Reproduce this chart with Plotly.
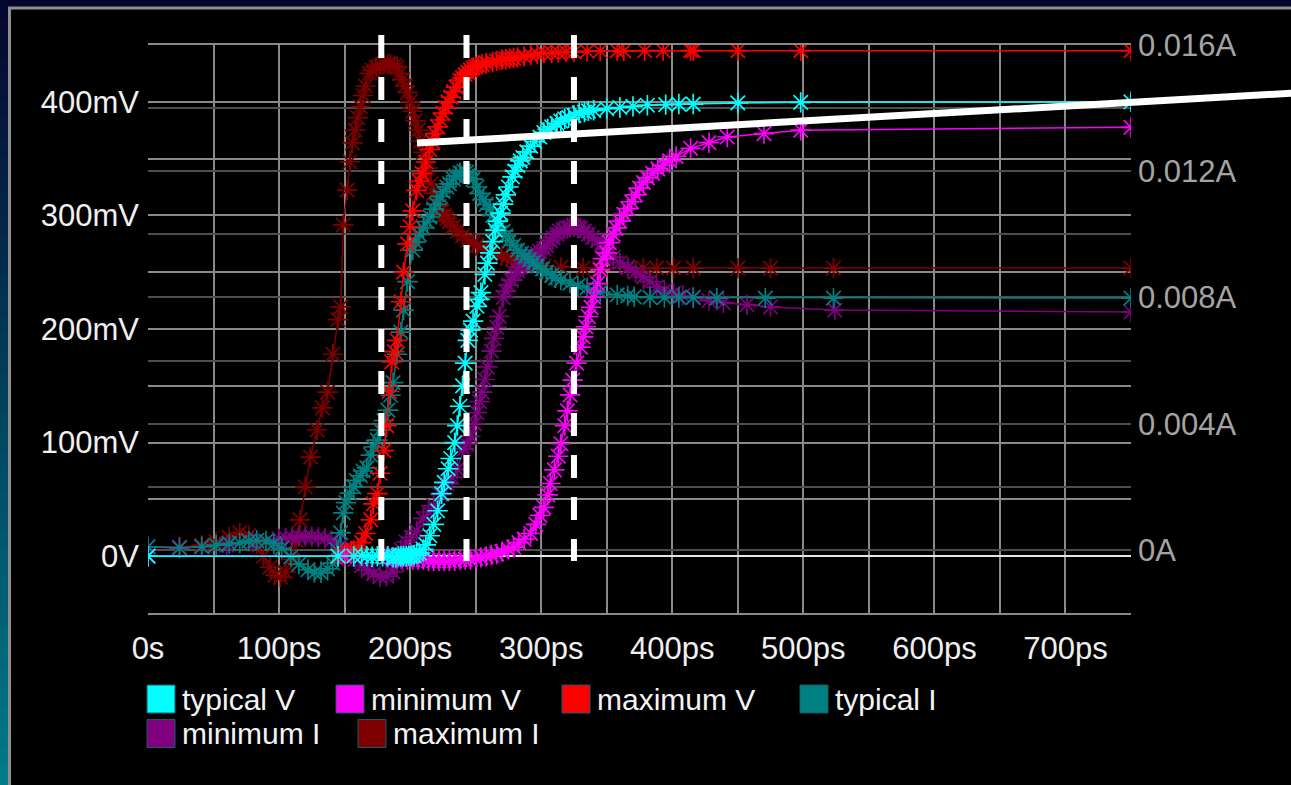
import plotly.graph_objects as go

# ---------------- data ----------------
series_names = ["typical V", "minimum V", "maximum V", "typical I", "minimum I", "maximum I"]
series_colors = ["#00ffff", "#ff00ff", "#ff0000", "#008080", "#800080", "#800000"]

# time axis (ps)
x_tick_vals = [0, 50, 100, 150, 200, 250, 300, 350, 400, 450, 500, 550, 600, 650, 700, 750]
x_tick_text = ["0s", "", "100ps", "", "200ps", "", "300ps", "", "400ps", "", "500ps", "", "600ps", "", "700ps", ""]
# voltage axis (mV)
v_tick_vals = [-50, 0, 50, 100, 150, 200, 250, 300, 350, 400, 450]
v_tick_text = ["", "0V", "", "100mV", "", "200mV", "", "300mV", "", "400mV", ""]
# current axis (mA)
i_tick_vals = [-2, 0, 2, 4, 6, 8, 10, 12, 14, 16]
i_tick_text = ["", "0A", "", "0.004A", "", "0.008A", "", "0.012A", "", "0.016A"]

# typical V (ps, mV)
typ_v_t = [0, 145, 157, 163, 167, 171, 175, 179, 183, 187, 189, 191, 193, 195, 197, 199, 201, 203, 205, 207,
           210, 212, 215, 218, 221, 224, 226, 229, 231, 234, 236, 238, 240, 242, 244, 246, 248, 251, 253, 254,
           257, 259, 261, 263, 265, 267, 269, 271, 273, 275, 278, 280, 282, 284, 286, 289, 292, 295, 299, 302,
           305, 308, 312, 315, 318, 321, 325, 329, 333, 336, 340, 350, 360, 370, 381, 395, 405, 416, 450, 498,
           750]
typ_v = [0, 0, 0, 0.5, 0, -0.5, 0, 0, 0, -1, -1, 0, 0, 0, 0, 0.5, 0.5, 1, 2, 3,
         6, 10, 18, 28, 40, 55, 65, 77, 86, 100, 115, 132, 150, 170, 190, 199, 207, 220, 226, 232,
         248, 258, 267, 277, 287, 295, 302, 310, 318, 325, 334, 339, 344, 348, 351, 356, 361, 365, 369, 373,
         376, 378, 381, 383, 385, 386, 388, 390, 391, 392, 392.5, 394, 395, 396, 397, 397.5, 398, 398, 399, 399.5,
         400]

# minimum V (ps, mV)
min_v_t = [0, 150, 182, 186, 190, 194, 198, 202, 206, 210, 214, 218, 222, 226, 230, 234, 238, 242, 246, 250,
           254, 258, 262, 266, 270, 275, 279, 283, 287, 292, 296, 299, 302, 305, 307, 310, 313, 315, 318, 320,
           322, 324, 327, 330, 332, 334, 336, 338, 340, 343, 345, 347, 350, 352, 355, 357, 360, 363, 366, 369,
           372, 375, 378, 381, 385, 389, 393, 398, 403, 414, 428, 442, 470, 498, 750]
min_v = [0, 0, -1, -1, -2, -2, -3, -3, -3, -3, -4, -4, -4, -4, -4, -4, -3, -3, -3, -2,
         -1, 0, 1, 2, 4, 6, 8, 12, 15, 20, 28, 36, 43, 54, 64, 76, 88, 99, 115, 128,
         142, 155, 170, 184, 193, 202, 211, 219, 228, 240, 252, 262, 267, 276, 283, 289, 295, 301, 306, 312,
         318, 324, 329, 333, 337, 341, 344, 348, 352, 359, 364, 369, 372, 375, 377.5]

# maximum V (ps, mV)
max_v_t = [0, 145, 148, 152, 155, 157, 160, 163, 166, 170, 172, 175, 177, 180, 182, 184, 186, 188, 190, 193,
           195, 198, 200, 202, 205, 207, 209, 212, 215, 217, 219, 221, 223, 225, 227, 229, 231, 233, 235, 238,
           240, 242, 244, 246, 248, 250, 252, 255, 258, 263, 266, 270, 273, 276, 279, 282, 287, 292, 297, 302,
           308, 313, 319, 325, 335, 345, 358, 363, 379, 393, 414, 416, 450, 498, 750]
max_v = [0, 0, 1, 3, 4, 5, 7, 12, 20, 32, 46, 55, 73, 93, 115, 145, 171, 180, 190, 224,
         250, 275, 290, 304, 322, 330, 337, 347, 358, 365, 372, 378, 384, 390, 395, 400, 404, 409, 413, 419,
         421, 424, 426, 428, 430, 431, 432, 433, 434, 435, 436, 437, 437.5, 438, 438.5, 439, 440, 441, 442, 443,
         443, 443.5, 444, 444, 444.5, 444.7, 444.8, 444.8, 445, 445, 445, 445, 445, 445, 445]

# typical I (ps, mA)
typ_i_t = [0, 24, 41, 52, 62, 70, 77, 83, 90, 96, 102, 109, 115, 122, 127, 132, 137, 141, 144, 147,
           149, 151, 154, 157, 159, 162, 164, 167, 170, 172, 175, 177, 180, 183, 185, 187, 190, 193, 195, 198,
           202, 204, 207, 210, 213, 215, 218, 220, 223, 225, 228, 230, 233, 235, 238, 241, 243, 245, 248, 251,
           253, 256, 258, 261, 263, 266, 268, 271, 273, 276, 279, 282, 285, 288, 291, 294, 297, 301, 304, 308,
           311, 315, 322, 328, 335, 345, 358, 366, 371, 383, 394, 405, 416, 434, 471, 523, 750]
typ_i = [0.1, 0.06, 0.1, 0.15, 0.2, 0.22, 0.28, 0.3, 0.28, 0.2, 0.05, -0.22, -0.45, -0.63, -0.72, -0.73, -0.6, -0.42, 0, 0.54,
         1.17, 1.5, 1.8, 2.0, 2.2, 2.35, 2.5, 2.6, 3.0, 3.26, 3.48, 3.8, 4.1, 4.43, 4.9, 5.3, 6.2, 6.9, 7.6, 8.5,
         9.5, 9.75, 10.0, 10.2, 10.4, 10.55, 10.8, 10.95, 11.2, 11.35, 11.5, 11.6, 11.75, 11.85, 11.95, 12.0, 11.97, 11.9, 11.75, 11.5,
         11.3, 11.1, 10.95, 10.8, 10.6, 10.4, 10.25, 10.1, 9.95, 9.8, 9.65, 9.5, 9.4, 9.3, 9.2, 9.1, 9.0, 8.9, 8.8, 8.7,
         8.62, 8.55, 8.45, 8.37, 8.3, 8.17, 8.08, 8.05, 8.02, 8.0, 8.0, 8.0, 8.0, 7.98, 7.98, 7.98, 7.98]

# minimum I (ps, mA)
min_i_t = [0, 24, 41, 60, 80, 100, 105, 110, 115, 120, 125, 130, 135, 140, 144, 147, 150, 153, 158, 163,
           168, 172, 177, 182, 187, 190, 193, 197, 201, 205, 210, 214, 218, 223, 228, 232, 236, 241, 243, 246,
           249, 251, 253, 255, 257, 259, 262, 264, 266, 268, 271, 273, 275, 277, 280, 282, 284, 287, 290, 292,
           295, 297, 299, 302, 304, 307, 309, 312, 314, 317, 320, 322, 325, 328, 330, 333, 336, 339, 343, 346,
           349, 355, 360, 366, 372, 378, 383, 388, 394, 401, 408, 416, 428, 439, 457, 475, 524, 750]
min_i = [0.1, 0.08, 0.1, 0.15, 0.25, 0.35, 0.38, 0.4, 0.42, 0.42, 0.42, 0.4, 0.36, 0.3, 0.22, 0.15, 0.02, -0.1, -0.3, -0.5,
         -0.65, -0.75, -0.85, -0.83, -0.7, -0.45, 0, 0.25, 0.4, 0.6, 1.0, 1.2, 1.4, 1.75, 2.1, 2.3, 2.55, 3.2, 3.35, 3.6,
         4.0, 4.35, 4.7, 5.0, 5.4, 5.8, 6.3, 6.7, 7.05, 7.4, 8.0, 8.2, 8.4, 8.55, 8.75, 8.85, 8.96, 9.05, 9.15, 9.22,
         9.3, 9.38, 9.45, 9.55, 9.65, 9.8, 9.9, 10.0, 10.1, 10.15, 10.2, 10.22, 10.25, 10.23, 10.2, 10.1, 10.0, 9.9, 9.8, 9.68,
         9.55, 9.28, 9.1, 8.96, 8.8, 8.65, 8.5, 8.33, 8.22, 8.14, 8.06, 8.0, 7.9, 7.83, 7.77, 7.7, 7.6, 7.54]

# maximum I (ps, mA)
max_i_t = [0, 24, 41, 52, 62, 70, 77, 83, 88, 93, 97, 101, 105, 109, 113, 116, 120, 124, 129, 133,
           137, 141, 145, 147, 149, 152, 154, 156, 158, 160, 162, 164, 166, 169, 171, 174, 177, 180, 183, 185,
           188, 190, 192, 194, 196, 198, 200, 202, 204, 206, 208, 210, 213, 216, 218, 220, 222, 224, 226, 228,
           230, 233, 236, 240, 244, 248, 251, 255, 259, 262, 266, 270, 274, 278, 282, 292, 302, 315, 332, 345,
           366, 378, 388, 401, 416, 450, 475, 523, 750]
max_i = [0.1, 0.1, 0.15, 0.25, 0.4, 0.54, 0.45, 0.2, -0.2, -0.55, -0.8, -0.86, -0.7, -0.3, 0.3, 0.95, 2.0, 2.94, 3.8, 4.5,
         5.0, 6.2, 7.3, 7.7, 10.3, 11.4, 12.3, 12.9, 13.3, 13.7, 14.05, 14.4, 14.7, 15.1, 15.2, 15.3, 15.35, 15.4, 15.4, 15.4,
         15.35, 15.3, 15.1, 14.9, 14.7, 14.5, 14.2, 13.9, 13.6, 13.3, 12.95, 12.6, 12.1, 11.6, 11.3, 11.1, 10.9, 10.75, 10.6, 10.5,
         10.4, 10.25, 10.1, 9.95, 9.82, 9.72, 9.65, 9.57, 9.5, 9.44, 9.38, 9.32, 9.27, 9.22, 9.19, 9.08, 9.0, 8.96, 8.93, 8.93,
         8.93, 8.93, 8.93, 8.93, 8.93, 8.93, 8.93, 8.93, 8.93]

# overlay marks drawn on the screenshot (times in ps)
marker_times = [178, 243, 325]

# ---------------- layout helpers ----------------
W, H = 1291, 785
ML, MR, MT, MB = 148, 160, 45, 172
PW, PH = W - ML - MR, H - MT - MB
X_RANGE = [0, 750]
V_RANGE = [-50, 450]
I_RANGE = [-2, 16]
FONT = "Liberation Sans, Arial, sans-serif"


def px(xp):
    return (xp - ML) / PW


def py(yp):
    return (H - MB - yp) / PH


fig = go.Figure()

# currents on the base (right) axis, voltages overlaid on the left axis (drawn above)
i_data = {"typical I": (typ_i_t, typ_i), "minimum I": (min_i_t, min_i), "maximum I": (max_i_t, max_i)}
v_data = {"typical V": (typ_v_t, typ_v), "minimum V": (min_v_t, min_v), "maximum V": (max_v_t, max_v)}
color_of = dict(zip(series_names, series_colors))

for name in ["maximum I", "minimum I", "typical I"]:
    t, y = i_data[name]
    c = color_of[name]
    fig.add_trace(go.Scatter(x=t, y=y, name=name, mode="lines+markers", yaxis="y",
                             line=dict(color=c, width=1.5),
                             marker=dict(symbol="asterisk-open", size=17, color=c,
                                         line=dict(color=c, width=1.7)),
                             showlegend=False))
for name in ["maximum V", "minimum V", "typical V"]:
    t, y = v_data[name]
    c = color_of[name]
    fig.add_trace(go.Scatter(x=t, y=y, name=name, mode="lines+markers", yaxis="y2",
                             line=dict(color=c, width=1.5),
                             marker=dict(symbol="asterisk-open", size=17, color=c,
                                         line=dict(color=c, width=1.7)),
                             showlegend=False))

shapes = []
# left gradient strip of the window background
top_rgb = (6, 6, 46)
bot_rgb = (0, 124, 138)
nb = 40
for k in range(nb):
    f = (k + 0.5) / nb
    col = "rgb(%d,%d,%d)" % tuple(int(a + (b - a) * f) for a, b in zip(top_rgb, bot_rgb))
    y0p = k * H / nb
    y1p = (k + 1) * H / nb + 1
    shapes.append(dict(type="rect", xref="paper", yref="paper", x0=px(-2), x1=px(10),
                       y0=py(y1p), y1=py(y0p), fillcolor=col, line=dict(width=0), layer="below"))
# black panel with grey border
shapes.append(dict(type="rect", xref="paper", yref="paper", x0=px(9.5), x1=px(1320),
                   y0=py(820), y1=py(8), fillcolor="#000000",
                   line=dict(color="#8e8e8e", width=3), layer="below"))

# white dashed vertical marks
for tm in marker_times:
    xp = (tm - X_RANGE[0]) / (X_RANGE[1] - X_RANGE[0])
    shapes.append(dict(type="line", xref="paper", yref="paper", x0=xp, x1=xp,
                       y0=py(35), y1=py(561), line=dict(color="#ffffff", width=6, dash="23px,19px"),
                       layer="above"))
# white slanted line
shapes.append(dict(type="line", xref="paper", yref="paper", x0=px(417), y0=py(143),
                   x1=px(1295), y1=py(93), line=dict(color="#ffffff", width=7), layer="above"))

# manual legend
legend_layout = [("typical V", 147, 699), ("minimum V", 336, 699), ("maximum V", 562, 699),
                 ("typical I", 800, 699), ("minimum I", 147, 733.5), ("maximum I", 358, 733.5)]
annotations = []
for name, xl, yc in legend_layout:
    c = color_of[name]
    shapes.append(dict(type="rect", xref="paper", yref="paper", x0=px(xl), x1=px(xl + 28),
                       y0=py(yc + 14), y1=py(yc - 14), fillcolor=c,
                       line=dict(color="#1a5a6a", width=1), layer="above"))
    annotations.append(dict(xref="paper", yref="paper", x=px(xl + 33), y=py(yc), text=name,
                            showarrow=False, xanchor="left", yanchor="middle",
                            font=dict(family=FONT, size=30, color="#f4f4f4")))

grid_light = "#8a8a8a"
grid_dark = "#4e4e4e"

fig.update_layout(
    width=W, height=H,
    margin=dict(l=ML, r=MR, t=MT, b=MB, pad=0),
    paper_bgcolor="#04052c",
    plot_bgcolor="#000000",
    showlegend=False,
    font=dict(family=FONT, size=31, color="#f0f0f0"),
    shapes=shapes,
    annotations=annotations,
    xaxis=dict(range=X_RANGE, tickmode="array", tickvals=x_tick_vals, ticktext=x_tick_text,
               showgrid=True, gridcolor=grid_light, gridwidth=1.5, zeroline=False,
               showline=True, linecolor=grid_light, linewidth=1.5, mirror=True, ticks="",
               ticklabelstandoff=7,
               tickfont=dict(family=FONT, size=31, color="#f0f0f0"), anchor="y"),
    yaxis=dict(range=I_RANGE, side="right", tickmode="array", tickvals=i_tick_vals, ticktext=i_tick_text,
               showgrid=True, gridcolor=grid_dark, gridwidth=1.5, zeroline=False,
               showline=False, ticks="", ticklabelstandoff=6,
               tickfont=dict(family=FONT, size=31, color="#a4a4a4")),
    yaxis2=dict(range=V_RANGE, side="left", overlaying="y", tickmode="array", tickvals=v_tick_vals,
                ticktext=v_tick_text, showgrid=True, gridcolor=grid_light, gridwidth=1.5,
                zeroline=True, zerolinecolor="#e6e6e6", zerolinewidth=1.5,
                showline=False, ticks="", ticklabelstandoff=8,
                tickfont=dict(family=FONT, size=31, color="#f0f0f0")),
)

fig.write_html("out.html", config={"displayModeBar": False},
               post_script="document.body.style.margin='0px';document.body.style.overflow='hidden';")
